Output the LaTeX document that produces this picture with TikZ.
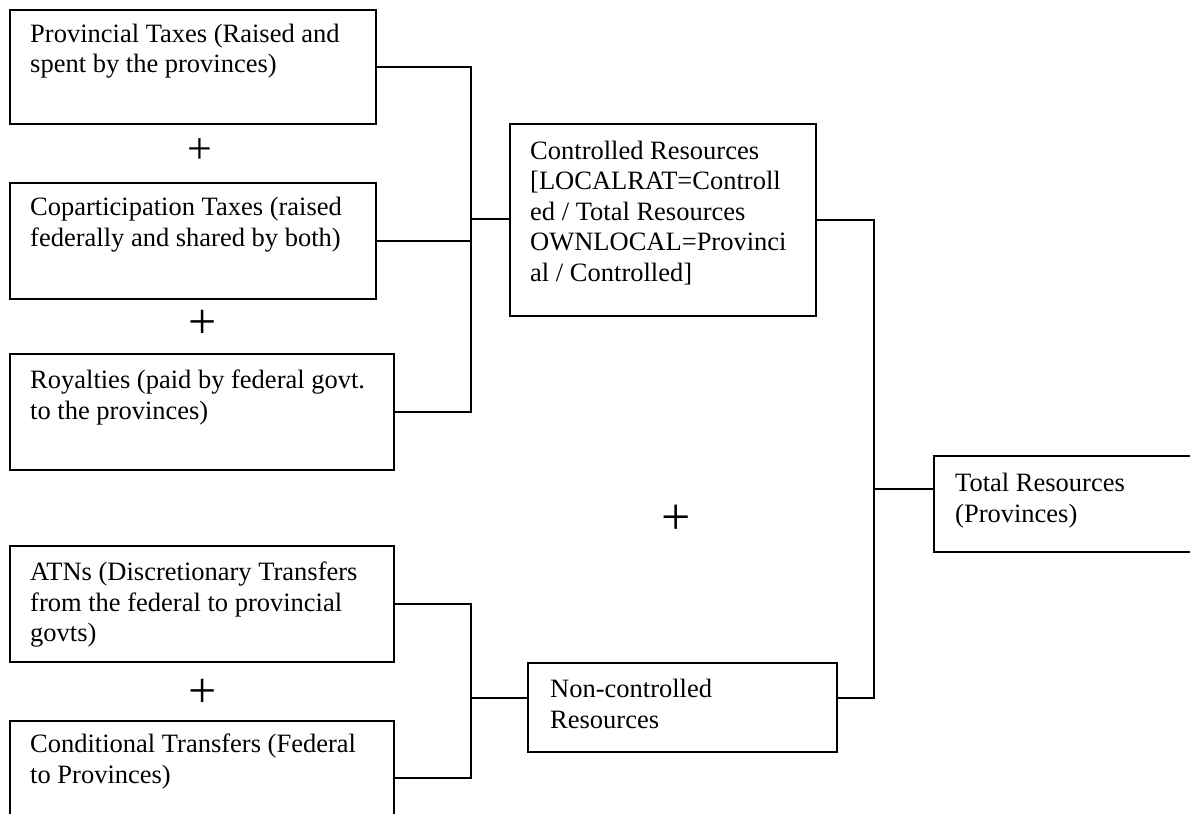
\documentclass[tikz,border=0pt]{standalone}
\usepackage{fontspec}
\setmainfont{Liberation Serif}
\begin{document}
\begin{tikzpicture}[x=1pt,y=-1pt,
  box/.style={draw=black, line width=1.8pt, rectangle, inner sep=0pt, anchor=north west},
  txt/.style={anchor=base west, inner sep=0pt, align=left, font=\fontsize{26.5}{30.5}\selectfont},
  plussign/.style={inner sep=0pt, font=\fontsize{#1}{#1}\selectfont},
  link/.style={draw=black, line width=1.8pt}
]
\useasboundingbox (0,0) rectangle (1190,813);
\clip (0,0) rectangle (1190,813);
\fill[white] (0,0) rectangle (1190,813);

% boxes
\node[box, minimum width=366pt, minimum height=114pt] (prov) at (9,9) {};
\node[box, minimum width=366pt, minimum height=116pt] (copa) at (9,182) {};
\node[box, minimum width=384pt, minimum height=116pt] (roy) at (9,353) {};
\node[box, minimum width=384pt, minimum height=116pt] (atn) at (9,545) {};
\node[box, minimum width=384pt, minimum height=114pt] (cond) at (9,720) {};
\node[box, minimum width=306pt, minimum height=192pt] (ctrl) at (509,123) {};
\node[box, minimum width=309pt, minimum height=89pt] (nonc) at (527,662) {};
\node[box, minimum width=300pt, minimum height=96pt] (total) at (933,455) {};

% texts (anchored at the baseline of the last line)
\node[txt] (provt) at (30,73) {Provincial Taxes (Raised and\\spent by the provinces)};
\node[txt] (copat) at (30,246) {Coparticipation Taxes (raised\\federally and shared by both)};
\node[txt] (royt) at (30,419) {Royalties (paid by federal govt.\\to the provinces)};
\node[txt] (atnt) at (30,641.5) {ATNs (Discretionary Transfers\\from the federal to provincial\\govts)};
\node[txt] (condt) at (30,783) {Conditional Transfers (Federal\\to Provinces)};
\node[txt] (ctrlt) at (530,281) {Controlled Resources\\{[LOCALRAT=Controll}\\ed / Total Resources\\OWNLOCAL=Provinci\\al / Controlled]};
\node[txt] (nonct) at (550,728) {Non-controlled\\Resources};
\node[txt] (totalt) at (955,522) {Total Resources\\(Provinces)};

% plus signs
\node[plussign=44] (p1) at (200,151) {+};
\node[plussign=50] (p2) at (203,324) {+};
\node[plussign=52] (p3) at (676,520) {+};
\node[plussign=50] (p4) at (203,693) {+};

% junctions
\coordinate (j1) at (471,219);
\coordinate (j2) at (471,698);
\coordinate (j3) at (874,489);

% connectors
\draw[link] (prov.east) -| (j1);
\draw[link] (roy.east) -| (j1);
\draw[link] (copa.east) -- (copa.east -| j1);
\draw[link] (j1) -- (j1 -| ctrl.west);
\draw[link] (atn.east) -| (j2);
\draw[link] (cond.east) -| (j2);
\draw[link] (j2) -- (j2 -| nonc.west);
\draw[link] (ctrl.east) -| (j3);
\draw[link] (j2 -| nonc.east) -| (j3);
\draw[link] (j3) -- (j3 -| total.west);
\end{tikzpicture}
\end{document}
